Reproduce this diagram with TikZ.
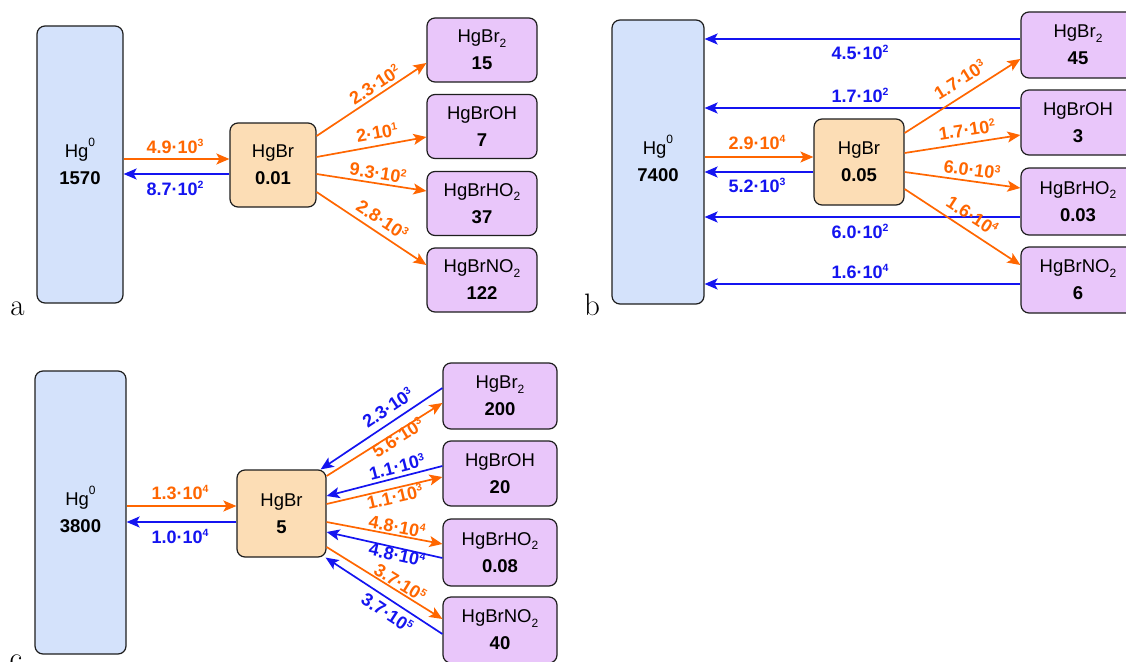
\documentclass[tikz,border=0pt]{standalone}
\usepackage{fontspec}
\newfontfamily\arialf{Liberation Sans}
\usetikzlibrary{arrows.meta}
\definecolor{orng}{RGB}{255,102,0}
\definecolor{blu}{RGB}{20,20,240}
\definecolor{hgfill}{RGB}{212,226,251}
\definecolor{brfill}{RGB}{252,221,181}
\definecolor{prfill}{RGB}{233,198,250}
\definecolor{boxline}{RGB}{30,30,30}
\newcommand\supx[1]{\smash{\raisebox{6.5pt}{\fontsize{10.5}{10.5}\selectfont #1}}}
\newcommand\hgsup[1]{\smash{\raisebox{11pt}{\fontsize{12}{12}\selectfont #1}}}
\newcommand\subx[1]{\smash{\raisebox{-4.5pt}{\fontsize{12}{12}\selectfont #1}}}
\tikzset{
  box/.style={draw=boxline, line width=1.2pt, rounded corners=8pt, align=center,
    inner sep=0pt, font=\arialf\fontsize{18.5}{27}\selectfont},
  hgbox/.style={box, fill=hgfill},
  brbox/.style={box, fill=brfill},
  prbox/.style={box, fill=prfill},
  oarr/.style={draw=orng, line width=1.7pt, -{Stealth[length=13pt,width=11pt,inset=3pt]}},
  barr/.style={draw=blu, line width=1.7pt, -{Stealth[length=13pt,width=11pt,inset=3pt]}},
  lab/.style={inner sep=0pt, font=\arialf\bfseries\fontsize{18}{18}\selectfont},
  olab/.style={lab, text=orng},
  blab/.style={lab, text=blu},
  panel/.style={inner sep=0pt, anchor=base, font=\fontsize{31}{31}\selectfont}
}
\begin{document}
\begin{tikzpicture}[x=1pt, y=-1pt]
\useasboundingbox (0,0) rectangle (1126,661);
\clip (0,0) rectangle (1126,661);
\fill[white] (0,0) rectangle (1126,661);

% ---------------- panel a ----------------
\node[hgbox, minimum width=86pt, minimum height=277pt] (HgA) at (80,164.5) {Hg\hgsup{0}\\\textbf{1570}};
\node[brbox, minimum width=86pt, minimum height=84pt] (HgBrA) at (273,165) {HgBr\\\textbf{0.01}};
\node[prbox, minimum width=110pt, minimum height=64pt] (A1) at (482,50) {HgBr\subx{2}\\\textbf{15}};
\node[prbox, minimum width=110pt, minimum height=64pt] (A2) at (482,126.5) {HgBrOH\\\textbf{7}};
\node[prbox, minimum width=110pt, minimum height=64pt] (A3) at (482,203.5) {HgBrHO\subx{2}\\\textbf{37}};
\node[prbox, minimum width=110pt, minimum height=64pt] (A4) at (482,280) {HgBrNO\subx{2}\\\textbf{122}};

\draw[oarr] (HgA.east |- 0,159) -- (HgBrA.west |- 0,159);
\draw[barr] (HgBrA.west |- 0,174) -- (HgA.east |- 0,174);
\draw[oarr] (HgBrA.east |- 0,136) -- (A1.west |- 0,63);
\draw[oarr] (HgBrA.east |- 0,157) -- (A2.west |- 0,137);
\draw[oarr] (HgBrA.east |- 0,174) -- (A3.west |- 0,191);
\draw[oarr] (HgBrA.east |- 0,192) -- (A4.west |- 0,265);

\node[olab] (la1) at (175,147) {4.9·10\supx{3}};
\node[blab] (la2) at (175,189) {8.7·10\supx{2}};
\node[olab, rotate=33.3] (la3) at (375,85) {2.3·10\supx{2}};
\node[olab, rotate=10.2] (la4) at (377,133) {2·10\supx{1}};
\node[olab, rotate=-8.7] (la5) at (378,173) {9.3·10\supx{2}};
\node[olab, rotate=-33.3] (la6) at (382,220) {2.8·10\supx{3}};
\node[panel] (pa) at (17.5,315) {a};

% ---------------- panel b ----------------
\node[hgbox, minimum width=92pt, minimum height=284pt] (HgB) at (658,162) {Hg\hgsup{0}\\\textbf{7400}};
\node[brbox, minimum width=90pt, minimum height=86pt] (HgBrB) at (859,162) {HgBr\\\textbf{0.05}};
\node[prbox, minimum width=114pt, minimum height=66pt] (B1) at (1078,45) {HgBr\subx{2}\\\textbf{45}};
\node[prbox, minimum width=114pt, minimum height=65pt] (B2) at (1078,122.5) {HgBrOH\\\textbf{3}};
\node[prbox, minimum width=114pt, minimum height=67pt] (B3) at (1078,201.5) {HgBrHO\subx{2}\\\textbf{0.03}};
\node[prbox, minimum width=114pt, minimum height=66pt] (B4) at (1078,280) {HgBrNO\subx{2}\\\textbf{6}};

\draw[barr] (B1.west |- 0,39) -- (HgB.east |- 0,39);
\draw[barr] (B2.west |- 0,108) -- (HgB.east |- 0,108);
\draw[barr] (B3.west |- 0,217) -- (HgB.east |- 0,217);
\draw[barr] (B4.west |- 0,284) -- (HgB.east |- 0,284);
\draw[oarr] (HgB.east |- 0,157) -- (HgBrB.west |- 0,157);
\draw[barr] (HgBrB.west |- 0,172) -- (HgB.east |- 0,172);
\draw[oarr] (HgBrB.east |- 0,133) -- (B1.west |- 0,59);
\draw[oarr] (HgBrB.east |- 0,153) -- (B2.west |- 0,135);
\draw[oarr] (HgBrB.east |- 0,172) -- (B3.west |- 0,188);
\draw[oarr] (HgBrB.east |- 0,189) -- (B4.west |- 0,265);

\node[blab] (lb1) at (860,53) {4.5·10\supx{2}};
\node[blab] (lb2) at (860,96) {1.7·10\supx{2}};
\node[blab] (lb3) at (860,232) {6.0·10\supx{2}};
\node[blab] (lb4) at (860,272) {1.6·10\supx{4}};
\node[olab] (lb5) at (757,143) {2.9·10\supx{4}};
\node[blab] (lb6) at (757,186) {5.2·10\supx{3}};
\node[olab, rotate=32] (lb7) at (960,80) {1.7·10\supx{3}};
\node[olab, rotate=8.7] (lb8) at (967,130) {1.7·10\supx{2}};
\node[olab, rotate=-7.7] (lb9) at (972,170) {6.0·10\supx{3}};
\node[olab, rotate=-32.8] (lb10) at (972,216) {1.6·10\supx{4}};
\node[panel] (pb) at (592,315) {b};

% ---------------- panel c ----------------
\node[hgbox, minimum width=91pt, minimum height=283pt] (HgC) at (80.5,512.5) {Hg\hgsup{0}\\\textbf{3800}};
\node[brbox, minimum width=89pt, minimum height=87pt] (HgBrC) at (281.5,513.5) {HgBr\\\textbf{5}};
\node[prbox, minimum width=114pt, minimum height=66pt] (C1) at (500,396) {HgBr\subx{2}\\\textbf{200}};
\node[prbox, minimum width=114pt, minimum height=65pt] (C2) at (500,473.5) {HgBrOH\\\textbf{20}};
\node[prbox, minimum width=114pt, minimum height=67pt] (C3) at (500,552.5) {HgBrHO\subx{2}\\\textbf{0.08}};
\node[prbox, minimum width=114pt, minimum height=66pt] (C4) at (500,630) {HgBrNO\subx{2}\\\textbf{40}};

\draw[oarr] (HgC.east |- 0,506) -- (HgBrC.west |- 0,506);
\draw[barr] (HgBrC.west |- 0,522) -- (HgC.east |- 0,522);
\draw[barr] (C1.west |- 0,388) -- ([xshift=-6pt]HgBrC.north east);
\draw[oarr] (HgBrC.east |- 0,476) -- (C1.west |- 0,403);
\draw[barr] (C2.west |- 0,466) -- (HgBrC.east |- 0,496);
\draw[oarr] (HgBrC.east |- 0,504) -- (C2.west |- 0,477);
\draw[oarr] (HgBrC.east |- 0,522) -- (C3.west |- 0,544);
\draw[barr] (C3.west |- 0,558) -- (HgBrC.east |- 0,532);
\draw[oarr] (HgBrC.east |- 0,547) -- (C4.west |- 0,619);
\draw[barr] (C4.west |- 0,634) -- ([xshift=-1pt]HgBrC.south east);

\node[olab] (lc1) at (180,493) {1.3·10\supx{4}};
\node[blab] (lc2) at (180,537) {1.0·10\supx{4}};
\node[blab, rotate=33.7] (lc3) at (388,408) {2.3·10\supx{3}};
\node[olab, rotate=32] (lc4) at (398,438) {5.6·10\supx{3}};
\node[blab, rotate=14.4] (lc5) at (397,467) {1.1·10\supx{3}};
\node[olab, rotate=13] (lc6) at (395,497) {1.1·10\supx{3}};
\node[olab, rotate=-10.6] (lc7) at (397,527) {4.8·10\supx{4}};
\node[blab, rotate=-12.5] (lc8) at (397,555) {4.8·10\supx{4}};
\node[olab, rotate=-31.6] (lc9) at (400,583) {3.7·10\supx{5}};
\node[blab, rotate=-33] (lc10) at (387,613) {3.7·10\supx{5}};
\node[panel] (pc) at (16,668) {c};
\end{tikzpicture}
\end{document}
